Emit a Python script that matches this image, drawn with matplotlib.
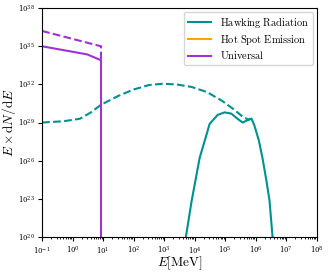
import numpy as np
import matplotlib
matplotlib.use("Agg")
import matplotlib.pyplot as plt
from matplotlib.ticker import LogLocator, NullLocator

plt.rcParams['mathtext.fontset'] = 'cm'
plt.rcParams['font.family'] = ['DejaVu Serif']

# universal (solid and dashed)
uni_E = [0.1, 3.0, 8.5, 8.5]
uni_y = [1e35, 2.3e34, 8e33, 1e20]
uni_dash_E = [0.1, 8.5, 8.5]
uni_dash_y = [1.6e36, 1e35, 8e33]

# hawking dashed (log10 values)
hd_logE = [-1.0, -0.3, 0.24, 0.6, 0.93, 1.5, 2.0, 2.5, 2.95, 3.4, 3.9, 4.4, 4.9, 5.3, 5.6, 5.75, 5.86]
hd_logy = [29.0, 29.1, 29.3, 29.8, 30.4, 31.1, 31.6, 31.95, 32.05, 32.0, 31.8, 31.4, 30.7, 30.0, 29.4, 29.25, 29.3]

# hawking solid (log10 values)
hs_logE = [3.71, 3.9, 4.16, 4.49, 4.75, 4.98, 5.2, 5.4, 5.57, 5.7, 5.86, 5.95, 6.1, 6.22, 6.35, 6.45, 6.55]
hs_logy = [20.0, 22.85, 26.2, 28.9, 29.6, 29.8, 29.7, 29.3, 29.0, 29.15, 29.3, 28.8, 27.6, 26.2, 24.4, 22.85, 20.0]

teal = '#009090'
purple = '#a030d8'

fig, ax = plt.subplots(figsize=(3.29, 2.72), dpi=100)
ax.plot(10 ** np.array(hs_logE), 10 ** np.array(hs_logy), color=teal, lw=1.5, label=r'$\mathrm{Hawking\ Radiation}$')
ax.plot(10 ** np.array(hd_logE), 10 ** np.array(hd_logy), color=teal, lw=1.5, ls='--')
ax.plot([], [], color='orange', lw=1.5, label=r'$\mathrm{Hot\ Spot\ Emission}$')
ax.plot(uni_E, uni_y, color=purple, lw=1.5, label=r'$\mathrm{Universal}$')
ax.plot(uni_dash_E, uni_dash_y, color=purple, lw=1.5, ls='--')

ax.set_xscale('log')
ax.set_yscale('log')
ax.set_xlim(1e-1, 1e8)
ax.set_ylim(1e20, 1e38)
ax.xaxis.set_major_locator(LogLocator(base=10, numticks=20))
ax.xaxis.set_minor_locator(LogLocator(base=10, subs=np.arange(2, 10), numticks=20))
ax.set_yticks([1e20, 1e23, 1e26, 1e29, 1e32, 1e35, 1e38])
ax.yaxis.set_minor_locator(NullLocator())
ax.tick_params(labelsize=5, length=3, pad=2.5)
ax.tick_params(which='minor', length=1.5)
ax.set_xlabel(r'$E[\mathrm{MeV}]$', fontsize=9.5)
ax.set_ylabel(r'$E\times\mathrm{d}N/\mathrm{d}E$', fontsize=9.5)
ax.xaxis.set_label_coords(0.5, -0.078)
ax.yaxis.set_label_coords(-0.086, 0.5)
ax.legend(loc='upper right', fontsize=7.5, handlelength=2.2, labelspacing=0.25,
          borderaxespad=0.35)

fig.subplots_adjust(left=0.128, right=0.963, top=0.97, bottom=0.129)
fig.savefig('out.png', dpi=100)
